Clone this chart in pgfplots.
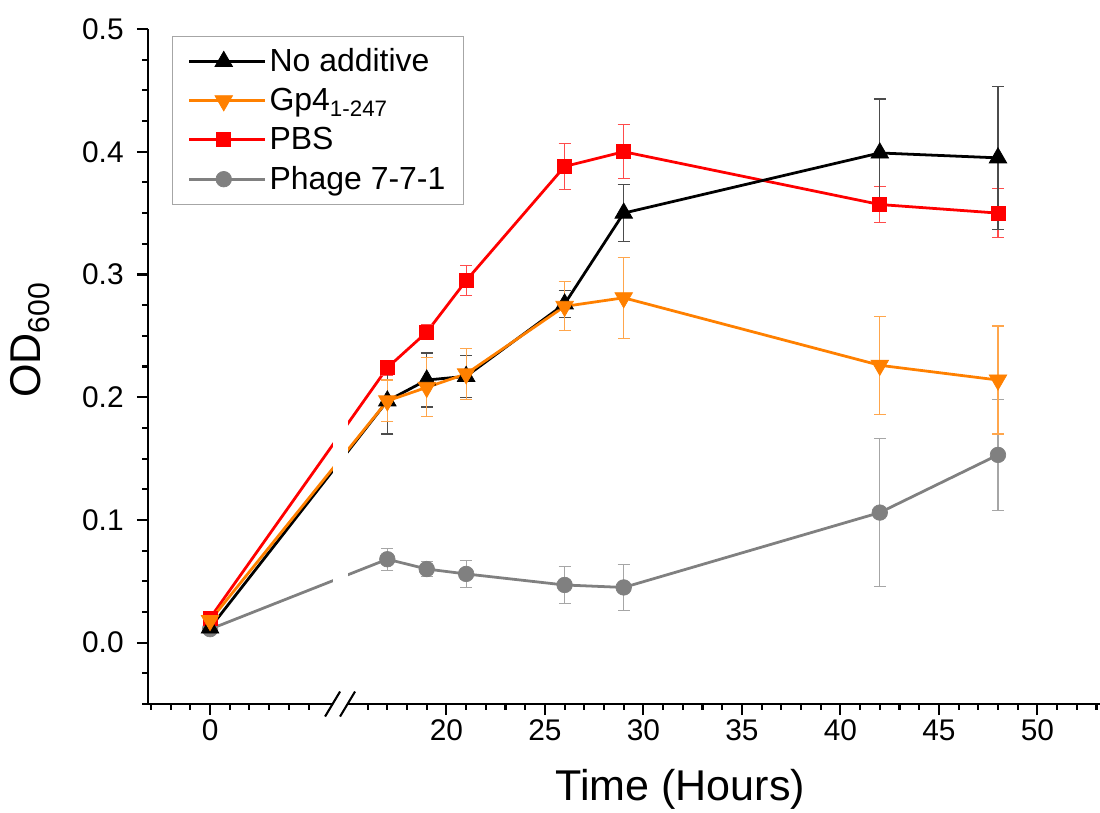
\documentclass[border=0pt]{standalone}
\usepackage{fontspec}
\setmainfont{Liberation Sans}
\usepackage{pgfplots}
\usepackage{pgfplotstable}
\pgfplotsset{compat=1.18}

\definecolor{gporange}{RGB}{255,128,0}
\definecolor{phagegray}{RGB}{128,128,128}

% t (hours), OD600, error
\pgfplotstableread{
t od err
0 0.012 0.003
17 0.197 0.027
19 0.214 0.022
21 0.217 0.017
26 0.276 0.011
29 0.350 0.023
42 0.399 0.044
48 0.395 0.058
}\noadd
\pgfplotstableread{
t od err
0 0.018 0.003
17 0.197 0.017
19 0.208 0.024
21 0.219 0.021
26 0.274 0.020
29 0.281 0.033
42 0.226 0.040
48 0.214 0.044
}\gpfour
\pgfplotstableread{
t od err
0 0.020 0.003
17 0.224 0.006
19 0.253 0.006
21 0.295 0.012
26 0.388 0.019
29 0.400 0.022
42 0.357 0.015
48 0.350 0.020
}\pbs
\pgfplotstableread{
t od err
0 0.011 0.002
17 0.068 0.009
19 0.060 0.006
21 0.056 0.011
26 0.047 0.015
29 0.045 0.019
42 0.106 0.060
48 0.153 0.045
}\phage

\begin{document}
\begin{tikzpicture}
\begin{axis}[
    scale only axis,
    width=685.4pt, height=486pt,
    xmin=-3.15, xmax=45.18,
    ymin=-0.05, ymax=0.5,
    axis lines*=left,
    axis line style={line width=1.5pt},
    tick align=outside,
    major tick length=8pt, minor tick length=4pt,
    every tick/.style={black, line width=1.5pt},
    % x axis is broken: hours >= 15 are shifted left by 8
    xtick={0,12,17,22,27,32,37,42},
    xticklabels={0,20,25,30,35,40,45,50},
    minor xtick={-3,-2,-1,1,2,3,4,5,8,9,10,11,13,14,15,16,18,19,20,21,23,24,25,26,28,29,30,31,33,34,35,36,38,39,40,41,43,44,45},
    ytick={0,0.1,0.2,0.3,0.4,0.5},
    minor ytick={-0.05,-0.025,0.025,0.05,0.075,0.125,0.15,0.175,0.225,0.25,0.275,0.325,0.35,0.375,0.425,0.45,0.475},
    yticklabel style={/pgf/number format/.cd, fixed, fixed zerofill, precision=1, /tikz/.cd, xshift=-6pt},
    /pgf/number format/assume math mode=true,
    ticklabel style={font=\fontsize{21.5}{25}\selectfont},
    xlabel={Time (Hours)},
    ylabel={OD\textsubscript{600}},
    label style={font=\fontsize{31}{36}\selectfont},
    xlabel style={at={(axis description cs:0.559,-0.127)}, anchor=center},
    ylabel style={at={(axis description cs:-0.124,0.539)}, anchor=center},
    clip=false,
    legend style={at={(0.025,0.99)}, anchor=north west, draw=gray!70,
        line width=0.8pt, font=\fontsize{23}{27}\selectfont,
        inner xsep=11pt, inner ysep=7pt, row sep=6.5pt},
    legend cell align=left,
    legend image code/.code={\draw[mark repeat=2,mark phase=2,#1]
        plot coordinates {(0pt,0pt) (25pt,0pt) (50pt,0pt)};
        \path (0pt,0pt) -- (55pt,0pt);},
]

\addplot[phagegray, line width=2pt, mark=*, mark size=5.6pt,
    mark options={solid, line width=0.5pt}, forget plot,
    error bars/.cd, y dir=both, y explicit,
    error bar style={line width=0.8pt, phagegray!70},
    error mark options={rotate=90, line width=0.8pt, mark size=4.3pt, phagegray!70}]
    table[x expr={\thisrow{t}-8*(\thisrow{t}>10)}, y=od, y error=err] {\phage};

\addplot[red, line width=2pt, mark=square*, mark size=5pt,
    mark options={solid, line width=0.5pt}, forget plot,
    error bars/.cd, y dir=both, y explicit,
    error bar style={line width=0.8pt, red!70},
    error mark options={rotate=90, line width=0.8pt, mark size=4.3pt, red!70}]
    table[x expr={\thisrow{t}-8*(\thisrow{t}>10)}, y=od, y error=err] {\pbs};

\addplot[black, line width=2pt, mark=triangle*, mark size=7.3pt,
    mark options={solid, line width=0.5pt}, forget plot,
    error bars/.cd, y dir=both, y explicit,
    error bar style={line width=0.8pt, black!70},
    error mark options={rotate=90, line width=0.8pt, mark size=4.3pt, black!70}]
    table[x expr={\thisrow{t}-8*(\thisrow{t}>10)}, y=od, y error=err] {\noadd};

\addplot[gporange, line width=2pt, mark=triangle*, mark size=7.3pt,
    mark options={solid, rotate=180, line width=0.5pt}, forget plot,
    error bars/.cd, y dir=both, y explicit,
    error bar style={line width=0.8pt, gporange!70},
    error mark options={rotate=90, line width=0.8pt, mark size=4.3pt, gporange!70}]
    table[x expr={\thisrow{t}-8*(\thisrow{t}>10)}, y=od, y error=err] {\gpfour};

\addlegendimage{black, line width=2pt, mark=triangle*, mark size=7.3pt, mark options={solid, line width=0.5pt}}
\addlegendentry{No additive}
\addlegendimage{gporange, line width=2pt, mark=triangle*, mark size=7.3pt, mark options={solid, rotate=180, line width=0.5pt}}
\addlegendentry{Gp4\textsubscript{1-247}}
\addlegendimage{red, line width=2pt, mark=square*, mark size=5pt, mark options={solid, line width=0.5pt}}
\addlegendentry{PBS}
\addlegendimage{phagegray, line width=2pt, mark=*, mark size=5.6pt, mark options={solid, line width=0.5pt}}
\addlegendentry{Phage 7-7-1}

\coordinate (bl) at (rel axis cs:0,0);
\coordinate (tr) at (rel axis cs:1,1);
\coordinate (s1) at (axis cs:6.22,-0.05);
\coordinate (s2) at (axis cs:6.98,-0.05);
\coordinate (gaptop) at (axis cs:6.98,0.30);
\end{axis}

% axis break
\fill[white] ([yshift=-3pt]s1) rectangle (gaptop);
\draw[line width=1.5pt] ([shift={(-5.4pt,-9pt)}]s1) -- ([shift={(5.4pt,9pt)}]s1);
\draw[line width=1.5pt] ([shift={(-5.4pt,-9pt)}]s2) -- ([shift={(5.4pt,9pt)}]s2);

\pgfresetboundingbox
\path[use as bounding box] ([shift={(-106.56pt,-77.76pt)}]bl) rectangle ([yshift=20.88pt]tr);
\end{tikzpicture}
\end{document}
